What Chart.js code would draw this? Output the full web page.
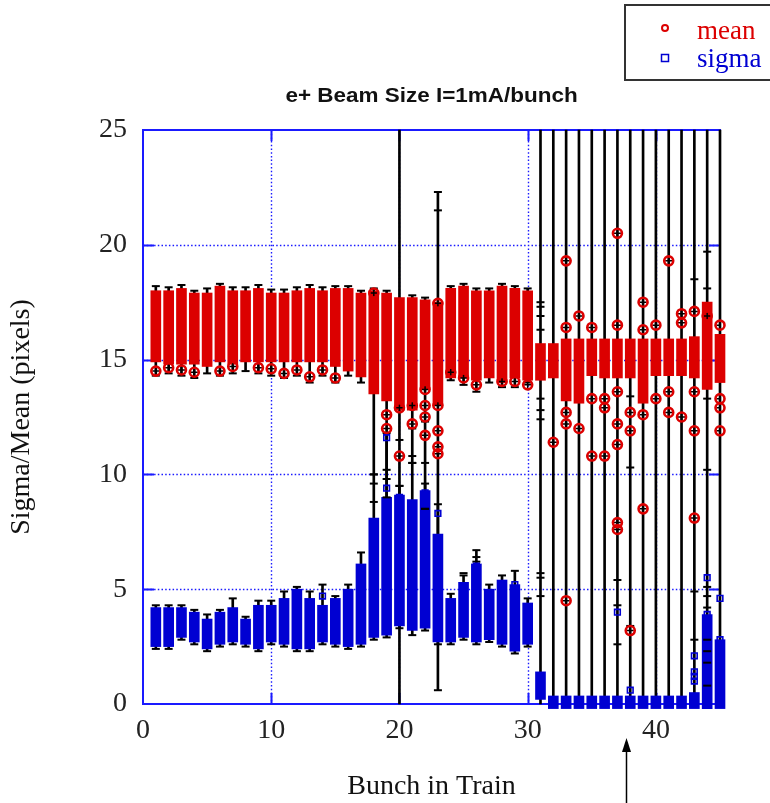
<!DOCTYPE html>
<html>
<head>
<meta charset="utf-8">
<script src="https://cdn.jsdelivr.net/npm/chart.js@4/dist/chart.umd.min.js"></script>
<style>
  html, body { margin: 0; padding: 0; background: #fff; }
  #wrap { width: 770px; height: 803px; position: relative; }
</style>
</head>
<body>
<div id="wrap"><canvas id="beam"></canvas></div>
<script>
// Bunch numbers along the train
const bunches = [1, 2, 3, 4, 5, 6, 7, 8, 9, 10, 11, 12, 13, 14, 15, 16, 17, 18, 19, 20, 21, 22, 23, 24, 25, 26, 27, 28, 29, 30,
                 31, 32, 33, 34, 35, 36, 37, 38, 39, 40, 41, 42, 43, 44, 45];

// Spread of the mean values per bunch (pixels)
const meanLow  = [14.9, 14.8, 14.8, 14.8, 14.7, 14.9, 14.8, 14.9, 14.9, 14.9, 14.9, 14.9, 14.9, 14.9, 14.7,
                  14.5, 14.25, 13.5, 13.2, 12.8, 12.8, 13.7, 13.0, 14.2, 14.2, 14.1, 14.2, 14.0, 14.2, 14.1,
                  14.1, 14.2, 13.2, 13.1, 14.3, 14.2, 14.2, 14.2, 13.1, 14.3, 14.3, 14.3, 14.2, 13.7, 14.0];
const meanHigh = [18.0, 18.0, 18.1, 17.9, 17.9, 18.2, 18.0, 18.0, 18.1, 17.9, 17.9, 18.0, 18.1, 18.0, 18.1,
                  18.1, 17.9, 18.0, 17.9, 17.7, 17.7, 17.6, 17.5, 18.1, 18.2, 18.0, 18.0, 18.2, 18.1, 18.0,
                  15.7, 15.7, 15.9, 15.9, 15.9, 15.9, 15.9, 15.9, 15.9, 15.9, 15.9, 15.9, 16.0, 17.5, 16.1];

// Spread of the sigma values per bunch (pixels)
const sigmaLow  = [2.5, 2.5, 2.9, 2.7, 2.4, 2.6, 2.7, 2.6, 2.4, 2.7, 2.6, 2.4, 2.4, 2.7, 2.6,
                   2.5, 2.6, 2.9, 3.0, 3.4, 3.2, 3.3, 2.7, 2.7, 2.9, 2.7, 2.8, 2.6, 2.3, 2.6,
                   0.2, -0.2, -0.2, -0.2, -0.2, -0.2, -0.2, -0.2, -0.2, -0.2, -0.2, -0.2, -0.2, -0.2, -0.2];
const sigmaHigh = [4.2, 4.2, 4.2, 4.0, 3.7, 4.0, 4.2, 3.7, 4.3, 4.3, 4.6, 5.0, 4.6, 4.3, 4.6,
                   5.0, 6.1, 8.1, 9.0, 9.1, 8.9, 9.3, 7.4, 4.6, 5.3, 6.1, 5.0, 5.4, 5.2, 4.4,
                   1.4, 0.35, 0.35, 0.35, 0.35, 0.35, 0.35, 0.35, 0.35, 0.35, 0.35, 0.35, 0.5, 3.9, 2.8];

// Error bars on the mean
const meanErrLow  = [14.3, 14.4, 14.3, 14.2, 14.4, 14.3, 14.4, 14.5, 14.4, 14.3, 14.2, 14.3, 14.0, 14.3, 14.0,
                     14.3, 14.0, 10.0, 9.0, 0, 10.5, 8.5, 0.6, 14.1, 13.9, 13.6, 14.0, 13.8, 13.8, 14.0,
                     0, 0, 0, 0, 0, 0, 0, 0, 0, 0, 0, 0, 0, 0, 0];
const meanErrHigh = [18.2, 18.15, 18.25, 18.0, 18.1, 18.3, 18.15, 18.15, 18.25, 18.05, 18.05, 18.15, 18.25, 18.15, 18.2,
                     18.2, 18.0, 18.1, 18.0, 25, 17.8, 17.7, 22.3, 18.2, 18.3, 18.1, 18.1, 18.3, 18.2, 18.1,
                     25, 25, 25, 25, 25, 25, 25, 25, 25, 25, 25, 25, 25, 25, 25];

// Error bars on sigma (bunches 31-45 are covered by the full-range mean bars)
const sigmaErrLow  = [2.4, 2.4, 2.8, 2.6, 2.3, 2.5, 2.6, 2.5, 2.3, 2.6, 2.5, 2.3, 2.3, 2.6, 2.5,
                      2.4, 2.5, 2.8, 2.9, 3.3, 3.0, 3.2, 2.6, 2.6, 2.8, 2.6, 2.7, 2.5, 2.2, 2.5];
const sigmaErrHigh = [4.3, 4.3, 4.3, 4.1, 3.9, 4.1, 4.6, 3.8, 4.5, 4.5, 4.9, 5.1, 4.9, 5.2, 4.7,
                      5.2, 6.6, 10.0, 11.8, 9.5, 10.5, 9.6, 8.7, 4.8, 5.6, 6.7, 5.2, 5.6, 5.8, 4.6];

// Single mean values that stand outside the spread
const meanOutBunch = [1, 2, 3, 4, 6, 7, 9, 10, 11, 12, 13, 14, 15, 18, 19, 19, 20, 20, 21, 21, 22, 22, 22, 22,
                      23, 23, 23, 23, 23, 24, 25, 26, 28, 29, 30,
                      32, 33, 33, 33, 33, 33, 34, 34, 35, 35, 35, 36, 36, 36, 37, 37, 37, 37, 37, 37, 37,
                      38, 38, 38, 39, 39, 39, 39, 40, 40, 41, 41, 41, 42, 42, 42, 43, 43, 43, 43, 44, 45, 45, 45, 45];
const meanOutValue = [14.5, 14.65, 14.55, 14.45, 14.5, 14.7, 14.65, 14.6, 14.4, 14.55, 14.25, 14.55, 14.2, 17.9,
                      12.6, 12.0, 12.9, 10.8, 13.0, 12.2, 13.7, 13.0, 12.5, 11.7,
                      17.45, 13.0, 11.9, 11.2, 10.9, 14.45, 14.2, 13.9, 14.05, 14.05, 13.9,
                      11.4, 19.3, 16.4, 12.7, 12.2, 4.5, 16.9, 12.0, 16.4, 13.3, 10.8, 13.3, 12.9, 10.8,
                      20.5, 16.5, 13.6, 12.2, 11.3, 7.9, 7.6, 12.7, 11.9, 3.2, 17.5, 16.3, 12.6, 8.5,
                      16.5, 13.3, 19.3, 13.6, 12.7, 17.0, 16.6, 12.5, 17.1, 13.6, 11.9, 8.1, 16.9,
                      16.5, 13.3, 12.9, 11.9];

// Single sigma values that stand outside the spread
const sigmaOutBunch = [14, 19, 19, 19, 20, 22, 23, 26, 28, 29, 31, 31, 37, 38, 43, 43, 43, 43, 44, 44, 44, 45, 45, 45, 45];
const sigmaOutValue = [4.7, 11.6, 9.4, 8.3, 9.0, 9.2, 8.3, 6.0, 5.2, 5.2, 1.2, 0.9, 4.0, 0.6, 2.1, 1.4, 1.2, 1.0,
                       5.5, 3.9, 3.2, 4.6, 2.8, 2.2, 1.7];

// Extra error-bar ends from individual measurements
const capBunch = [23, 31, 31, 31, 31, 31, 31, 31, 31, 31, 31, 37, 37, 37, 37, 38, 38, 38, 43, 43, 43,
                  44, 44, 44, 44, 44, 44, 44, 44, 44, 44, 44, 19, 19, 20, 20, 21, 21, 22, 22, 22, 18, 18, 26, 26, 25];
const capValue = [21.5, 17.5, 17.3, 16.9, 16.3, 13.3, 12.8, 12.4, 5.7, 5.5, 4.7, 7.7, 5.4, 4.3, 2.6, 13.4, 10.3, 3.4,
                  18.5, 4.9, 2.8, 19.7, 18.1, 13.3, 10.2, 5.1, 4.7, 4.2, 2.8, 2.3, 1.8, 0.8,
                  10.2, 9.8, 11.5, 9.5, 12.0, 10.8, 12.3, 10.5, 8.5, 9.6, 8.8, 6.4, 6.2, 5.7];

const chartTitle = 'e+ Beam Size I=1mA/bunch';
const legendLabels = ['mean', 'sigma'];
const arrowBunch = 37.7;

const RED = '#dc0000';
const BLUE = '#0000d2';
const GRID_BLUE = '#1a1aff';
const SERIF = '"Liberation Serif", "DejaVu Serif", serif';

// 区间 -> 浮动柱数据
function rangeData(lo, hi) {
    const out = [];
    lo.forEach((v, i) => {
        if (v === null || v === undefined || hi[i] === null || hi[i] === undefined) return;
        out.push({ x: bunches[i], y: [v, hi[i]] });
    });
    return out;
}

// 误差棒两端的短横线（位于坐标边界上的不画）
function capData(lo, hi) {
    const out = [];
    lo.forEach((v, i) => {
        if (v > 0 && v < 25) out.push({ x: bunches[i], y: v });
        if (hi[i] > 0 && hi[i] < 25) out.push({ x: bunches[i], y: hi[i] });
    });
    return out;
}

function pointData(xs, ys) {
    return xs.map((b, i) => ({ x: b, y: ys[i] }));
}

// 网格、边框和内侧刻度
const frame = {
    id: 'frame',
    beforeDatasetsDraw(chart) {
        const { ctx, chartArea: a, scales: { x, y } } = chart;
        const xs = x.ticks.map(t => t.value).filter(v => v > 0 && v < 45);
        const ys = y.ticks.map(t => t.value).filter(v => v > 0 && v < 25);
        ctx.save();
        ctx.strokeStyle = GRID_BLUE;
        ctx.lineWidth = 1.4;
        ctx.setLineDash([1.5, 2.2]);
        ctx.beginPath();
        xs.forEach(v => {
            const px = Math.round(x.getPixelForValue(v)) + 0.5;
            ctx.moveTo(px, a.top); ctx.lineTo(px, a.bottom);
        });
        ys.forEach(v => {
            const py = Math.round(y.getPixelForValue(v)) + 0.5;
            ctx.moveTo(a.left, py); ctx.lineTo(a.right, py);
        });
        ctx.stroke();

        ctx.setLineDash([]);
        ctx.lineWidth = 2;
        ctx.strokeRect(a.left, a.top, a.right - a.left, a.bottom - a.top);
        ctx.beginPath();
        xs.forEach(v => {
            const px = Math.round(x.getPixelForValue(v)) + 0.5;
            ctx.moveTo(px, a.bottom); ctx.lineTo(px, a.bottom - 11);
            ctx.moveTo(px, a.top); ctx.lineTo(px, a.top + 11);
        });
        ys.forEach(v => {
            const py = Math.round(y.getPixelForValue(v)) + 0.5;
            ctx.moveTo(a.left, py); ctx.lineTo(a.left + 11, py);
            ctx.moveTo(a.right, py); ctx.lineTo(a.right - 11, py);
        });
        ctx.stroke();
        ctx.restore();
    }
};

// 标题、右上角图例框、下方箭头
const extras = {
    id: 'extras',
    afterDraw(chart) {
        const { ctx, chartArea: a, scales: { x } } = chart;
        ctx.save();

        // 标题居中于绘图区，略微横向拉宽
        const cx = (a.left + a.right) / 2;
        ctx.save();
        ctx.translate(cx, 96);
        ctx.scale(1.07, 1);
        ctx.font = 'bold 21px "Liberation Sans", Arial, sans-serif';
        ctx.fillStyle = '#111';
        ctx.textAlign = 'center';
        ctx.textBaseline = 'middle';
        ctx.fillText(chartTitle, 0, 0);
        ctx.restore();

        ctx.fillStyle = '#fff';
        ctx.fillRect(625, 5, 150, 75);
        ctx.strokeStyle = '#333';
        ctx.lineWidth = 2;
        ctx.strokeRect(625, 5, 150, 75);

        ctx.font = '27px ' + SERIF;
        ctx.textBaseline = 'alphabetic';
        ctx.textAlign = 'left';

        ctx.strokeStyle = RED;
        ctx.lineWidth = 2;
        ctx.beginPath();
        ctx.arc(665, 28, 3, 0, Math.PI * 2);
        ctx.stroke();
        ctx.fillStyle = RED;
        ctx.fillText(legendLabels[0], 697, 39);

        ctx.strokeStyle = BLUE;
        ctx.lineWidth = 1.5;
        ctx.strokeRect(661.5, 54.5, 7, 7);
        ctx.fillStyle = BLUE;
        ctx.fillText(legendLabels[1], 697, 67);

        // 指向异常区的箭头
        const ax = Math.round(x.getPixelForValue(arrowBunch)) + 0.5;
        const tipY = a.bottom + 34;
        ctx.strokeStyle = '#000';
        ctx.fillStyle = '#000';
        ctx.lineWidth = 1.5;
        ctx.beginPath();
        ctx.moveTo(ax, 803);
        ctx.lineTo(ax, tipY + 10);
        ctx.stroke();
        ctx.beginPath();
        ctx.moveTo(ax, tipY);
        ctx.lineTo(ax - 4.5, tipY + 14);
        ctx.lineTo(ax + 4.5, tipY + 14);
        ctx.closePath();
        ctx.fill();
        ctx.restore();
    }
};

const errDefaults = {
    type: 'bar',
    backgroundColor: '#000',
    borderWidth: 0,
    barThickness: 2,
    grouped: false,
    clip: false,
    order: 6
};

const capPoints = capData(meanErrLow, meanErrHigh)
    .concat(capData(sigmaErrLow, sigmaErrHigh))
    .concat(pointData(capBunch, capValue));

new Chart(document.getElementById('beam'), {
    type: 'bar',
    data: {
        datasets: [
            Object.assign({ label: 'mean error' }, errDefaults, { data: rangeData(meanErrLow, meanErrHigh) }),
            Object.assign({ label: 'sigma error' }, errDefaults, { data: rangeData(sigmaErrLow, sigmaErrHigh) }),
            {
                label: 'mean',
                type: 'bar',
                data: rangeData(meanLow, meanHigh),
                backgroundColor: RED,
                borderWidth: 0,
                barThickness: 10,
                grouped: false,
                clip: false,
                order: 5
            },
            {
                label: 'sigma',
                type: 'bar',
                data: rangeData(sigmaLow, sigmaHigh),
                backgroundColor: BLUE,
                borderWidth: 0,
                barThickness: 10,
                grouped: false,
                clip: false,
                order: 5
            },
            {
                label: 'caps',
                type: 'scatter',
                data: capPoints,
                pointStyle: 'line',
                pointRadius: 4,
                borderColor: '#000',
                borderWidth: 2,
                order: 4
            },
            {
                label: 'mean cross',
                type: 'scatter',
                data: pointData(meanOutBunch, meanOutValue),
                pointStyle: 'cross',
                pointRadius: 3.5,
                borderColor: '#000',
                borderWidth: 1.5,
                order: 3
            },
            {
                label: 'mean points',
                type: 'scatter',
                data: pointData(meanOutBunch, meanOutValue),
                pointStyle: 'circle',
                pointRadius: 4.5,
                backgroundColor: 'rgba(0,0,0,0)',
                borderColor: RED,
                borderWidth: 2.6,
                clip: false,
                order: 2
            },
            {
                label: 'sigma points',
                type: 'scatter',
                data: pointData(sigmaOutBunch, sigmaOutValue),
                pointStyle: 'rect',
                pointRadius: 4,
                backgroundColor: 'rgba(0,0,0,0)',
                borderColor: BLUE,
                borderWidth: 1.6,
                clip: false,
                order: 2
            }
        ]
    },
    options: {
        responsive: true,
        maintainAspectRatio: false,
        animation: false,
        layout: { padding: { left: 5, right: 50, top: 130, bottom: 0 } },
        plugins: {
            legend: { display: false },
            tooltip: { enabled: false },
            title: { display: false }
        },
        scales: {
            x: {
                type: 'linear',
                min: 0,
                max: 45,
                offset: false,
                grid: { display: false, offset: false },
                border: { display: false },
                afterBuildTicks(scale) {
                    scale.ticks = scale.ticks.filter(t => t.value % 10 === 0);
                },
                afterFit(scale) { scale.height = 99; },
                ticks: {
                    stepSize: 10,
                    padding: 2,
                    maxRotation: 0,
                    color: '#222',
                    font: { family: SERIF, size: 28 }
                },
                title: {
                    display: true,
                    text: 'Bunch in Train',
                    color: '#111',
                    font: { family: SERIF, size: 28, lineHeight: 1.2 },
                    padding: { top: 0, bottom: 0 }
                }
            },
            y: {
                type: 'linear',
                min: 0,
                max: 25,
                grid: { display: false },
                border: { display: false },
                afterFit(scale) { scale.width = 138; },
                ticks: {
                    stepSize: 5,
                    padding: 8,
                    color: '#222',
                    font: { family: SERIF, size: 28 }
                },
                title: {
                    display: true,
                    text: 'Sigma/Mean (pixels)',
                    color: '#111',
                    font: { family: SERIF, size: 28, lineHeight: 1.2 },
                    padding: { top: 0, bottom: 0 }
                }
            }
        }
    },
    plugins: [frame, extras]
});
</script>
</body>
</html>
